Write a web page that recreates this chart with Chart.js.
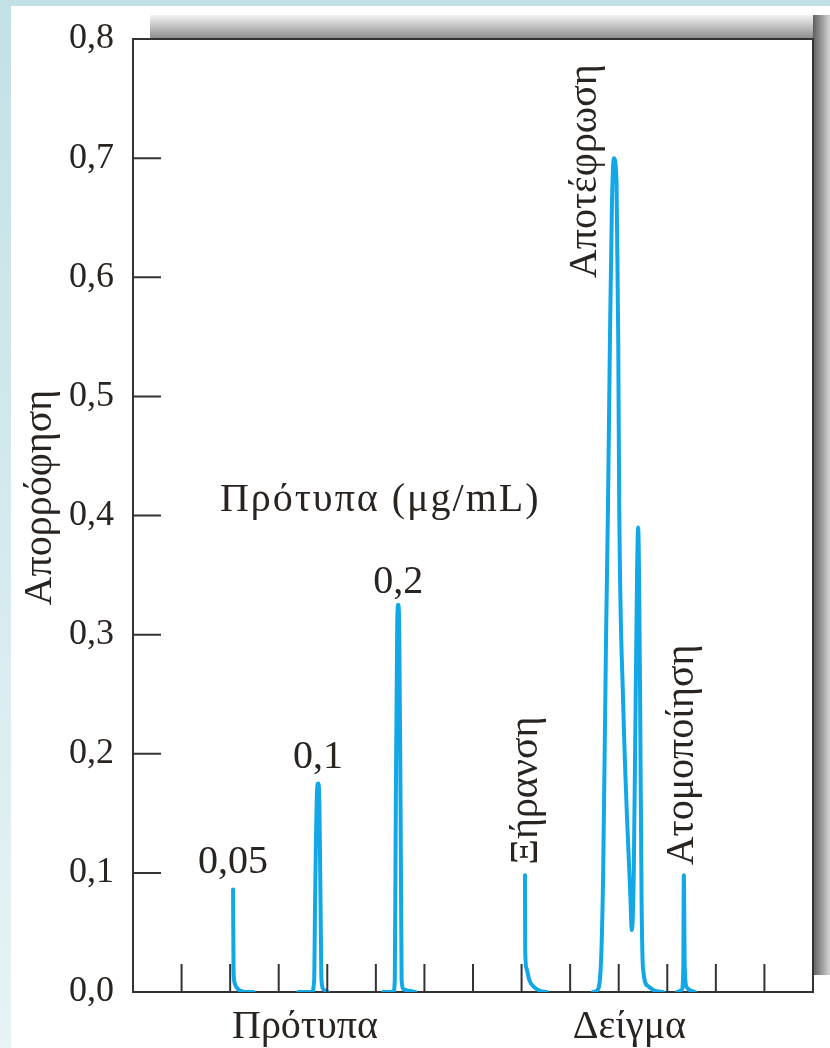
<!DOCTYPE html>
<html><head><meta charset="utf-8">
<script src="https://cdn.jsdelivr.net/npm/chart.js@4.4.1/dist/chart.umd.min.js"></script>
<style>html,body{margin:0;padding:0;background:#fff;overflow:hidden}canvas{display:block}</style>
</head><body>
<canvas id="c" width="830" height="1048"></canvas>
<script>
// ---- data (x in arbitrary time units 0..14, y = absorbance) ----
const yTickValues = [0, 0.1, 0.2, 0.3, 0.4, 0.5, 0.6, 0.7, 0.8];
const xTickValues = [1, 2, 3, 4, 5, 6, 7, 8, 9, 10, 11, 12, 13];

const std005X = [2.060, 2.070, 2.090, 2.150, 2.300, 2.480];
const std005Y = [0.086, 0.020, 0.008, 0.003, 0.000, 0.000];

const std01X = [3.40, 3.68, 3.73, 3.75, 3.79, 3.81, 3.83, 3.86, 3.88, 3.93, 4.01];
const std01Y = [0.000, 0.000, 0.010, 0.080, 0.170, 0.175, 0.170, 0.080, 0.010, 0.002, 0.000];

const std02X = [5.15, 5.36, 5.39, 5.41, 5.44, 5.46, 5.48, 5.51, 5.53, 5.58, 5.81];
const std02Y = [0.000, 0.000, 0.010, 0.150, 0.310, 0.325, 0.310, 0.150, 0.010, 0.002, 0.000];

const dryX = [8.070, 8.075, 8.100, 8.160, 8.260, 8.380, 8.520];
const dryY = [0.098, 0.035, 0.020, 0.010, 0.004, 0.001, 0.000];

const ashX = [9.47, 9.57, 9.64, 9.68, 9.74, 9.78, 9.82, 9.86, 9.90, 9.955, 9.99, 10.01, 10.09, 10.24, 10.27, 10.31, 10.35, 10.40, 10.44, 10.47, 10.50, 10.60, 10.75, 10.91];
const ashY = [0.000, 0.002, 0.030, 0.100, 0.300, 0.410, 0.550, 0.660, 0.700, 0.680, 0.550, 0.410, 0.245, 0.080, 0.052, 0.100, 0.250, 0.390, 0.250, 0.080, 0.020, 0.005, 0.001, 0.000];

const atomX = [11.20, 11.30, 11.33, 11.34, 11.36, 11.40, 11.57];
const atomY = [0.000, 0.002, 0.020, 0.098, 0.020, 0.004, 0.000];

const peakLabels = ['0,05', '0,1', '0,2'];
const stageLabels = ['Ξήρανση', 'Αποτέφρωση', 'Ατομοποίηση'];
const groupLabels = ['Πρότυπα', 'Δείγμα'];
const yTitle = 'Απορρόφηση';
const standardsTitle = 'Πρότυπα (μg/mL)';

// ---- styling ----
const LINE = '#12a8e8';
const INK = '#2a2421';
const AXIS = '#333333';
const FONT = '"Liberation Serif", "Times New Roman", serif';

const traces = [[std005X, std005Y], [std01X, std01Y], [std02X, std02Y], [dryX, dryY], [ashX, ashY], [atomX, atomY]];

const decor = {
  id: 'decor',
  beforeDraw(chart) {
    const ctx = chart.ctx, W = chart.width, H = chart.height, a = chart.chartArea;
    ctx.save();
    let g = ctx.createLinearGradient(0, 0, 0, H);
    g.addColorStop(0, '#c2e1e5'); g.addColorStop(1, '#e7f3f5');
    ctx.fillStyle = g; ctx.fillRect(0, 0, W, H);
    ctx.fillStyle = '#ffffff'; ctx.fillRect(11, 6, W - 11, H - 6);
    // shadow behind the frame
    g = ctx.createLinearGradient(a.right, 0, W, 0);
    g.addColorStop(0, '#5e5e5e'); g.addColorStop(1, '#d6d6d6');
    ctx.fillStyle = g; ctx.fillRect(a.right, 15, W - a.right, 960);
    g = ctx.createLinearGradient(0, 15, 0, a.top);
    g.addColorStop(0, '#f4f4f4'); g.addColorStop(1, '#8a8a8a');
    ctx.fillStyle = g; ctx.fillRect(150, 15, a.right - 150, a.top - 15);
    ctx.fillStyle = '#ffffff'; ctx.fillRect(a.left, a.top, a.right - a.left, a.bottom - a.top);
    ctx.restore();
  },
  afterDraw(chart) {
    const ctx = chart.ctx, a = chart.chartArea, xs = chart.scales.x, ys = chart.scales.y;
    ctx.save();
    ctx.strokeStyle = AXIS; ctx.lineWidth = 2;
    ctx.beginPath();
    ctx.moveTo(a.left, a.top); ctx.lineTo(a.right, a.top); ctx.lineTo(a.right, a.bottom);
    // inward tick marks
    yTickValues.forEach(v => { if (v > 0 && v < 0.8) { const p = ys.getPixelForValue(v); ctx.moveTo(a.left, p); ctx.lineTo(a.left + 28, p); } });
    xTickValues.forEach(v => { const p = xs.getPixelForValue(v); ctx.moveTo(p, a.bottom); ctx.lineTo(p, a.bottom - 28); });
    ctx.stroke();

    ctx.fillStyle = INK; ctx.textAlign = 'center'; ctx.textBaseline = 'middle';
    ctx.font = '40px ' + FONT;
    const T = (t, x, y) => ctx.fillText(t, xs.getPixelForValue(x), ys.getPixelForValue(y));
    const R = (t, x, y) => { ctx.save(); ctx.translate(xs.getPixelForValue(x), ys.getPixelForValue(y)); ctx.rotate(-Math.PI / 2); ctx.fillText(t, 0, 0); ctx.restore(); };
    ctx.letterSpacing = '2px';
    T(standardsTitle, 5.09, 0.413);
    ctx.letterSpacing = '0px';
    T(peakLabels[0], 2.06, 0.109);
    T(peakLabels[1], 3.81, 0.197);
    T(peakLabels[2], 5.46, 0.344);
    R(stageLabels[0], 8.11, 0.169);
    R(stageLabels[1], 9.31, 0.689);
    R(stageLabels[2], 11.32, 0.199);
    ctx.fillText(groupLabels[0], xs.getPixelForValue(3.54), a.bottom + 35);
    ctx.fillText(groupLabels[1], xs.getPixelForValue(10.22), a.bottom + 35);
    ctx.save(); ctx.translate(40, ys.getPixelForValue(0.415)); ctx.rotate(-Math.PI / 2); ctx.fillText(yTitle, 0, 0); ctx.restore();
    ctx.restore();
  }
};

new Chart(document.getElementById('c'), {
  type: 'line',
  data: {
    datasets: traces.map(([xv, yv]) => ({
      data: xv.map((x, i) => ({ x, y: yv[i] })),
      borderColor: LINE, borderWidth: 4, pointRadius: 0, fill: false,
      cubicInterpolationMode: 'monotone', borderCapStyle: 'round', borderJoinStyle: 'round'
    }))
  },
  options: {
    responsive: false, animation: false, devicePixelRatio: 1,
    layout: { padding: { top: 39, right: 17, bottom: 0, left: 0 } },
    plugins: { legend: { display: false }, tooltip: { enabled: false } },
    scales: {
      x: {
        type: 'linear', min: 0, max: 14,
        grid: { display: false }, ticks: { display: false },
        border: { display: true, color: AXIS, width: 2 },
        afterFit(s) { s.height = 56; }
      },
      y: {
        type: 'linear', min: 0, max: 0.8,
        grid: { display: false },
        border: { display: true, color: AXIS, width: 2 },
        afterBuildTicks(s) { s.ticks = yTickValues.map(v => ({ value: v })); },
        ticks: {
          callback: v => v.toFixed(1).replace('.', ','),
          font: { family: FONT, size: 36 }, color: INK, padding: 11
        },
        afterFit(s) { s.width = 133; }
      }
    }
  },
  plugins: [decor]
});
</script>
</body></html>
